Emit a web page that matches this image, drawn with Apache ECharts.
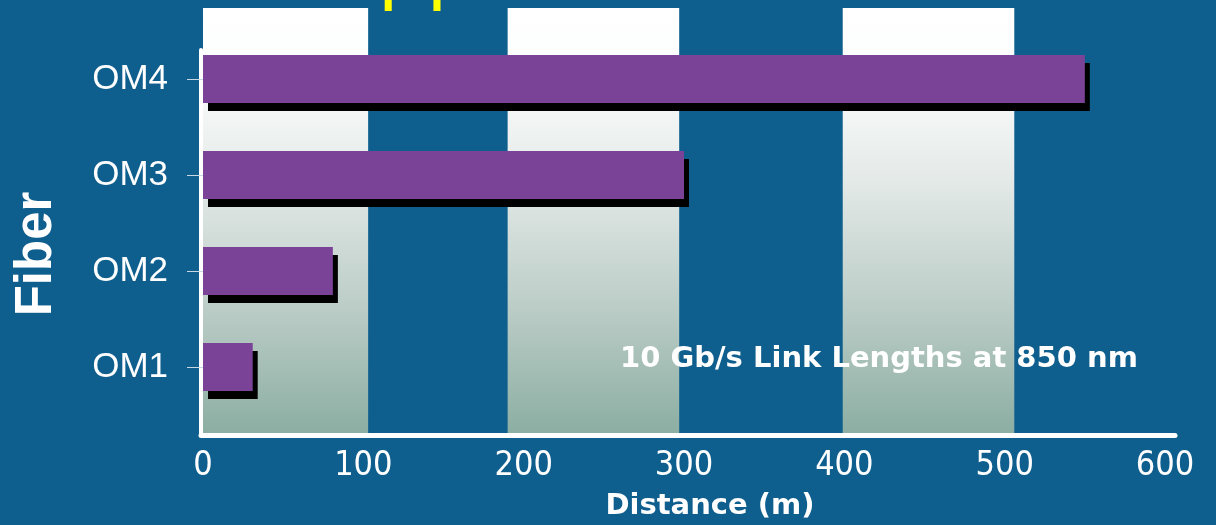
<!DOCTYPE html>
<html>
<head>
<meta charset="utf-8">
<style>
  html, body { margin: 0; padding: 0; background: #0e5e8e; }
  #chart { width: 1216px; height: 525px; }
</style>
<script src="https://cdn.jsdelivr.net/npm/echarts@6/dist/echarts.min.js"></script>
</head>
<body>
<div id="chart"></div>
<script>
// Fiber grades and their 10 Gb/s reach at 850 nm (metres)
const categories = ['OM1', 'OM2', 'OM3', 'OM4'];
const distances = [31, 81, 300, 550];

// Distance axis
const distanceMin = 0;
const distanceMax = 600;
const distanceStep = 100;

// Light background stripes, in metres along the distance axis
const bands = [[0, 103], [190, 297], [399, 506]];

const chart = echarts.init(document.getElementById('chart'), null, { renderer: 'canvas' });

const bandFill = new echarts.graphic.LinearGradient(0, 0, 0, 1, [
  { offset: 0, color: '#ffffff' },
  { offset: 0.15, color: '#fcfdfd' },
  { offset: 0.4, color: '#e4eae8' },
  { offset: 0.7, color: '#bccdc7' },
  { offset: 1, color: '#8caea3' }
]);

const hidden = { show: false };

chart.setOption({
  backgroundColor: '#0e5e8e',
  animation: false,
  grid: [
    // stripes
    { left: 203, width: 962, top: 8, height: 425 },
    // bars
    { left: 203, width: 962, top: 31, height: 384 },
    // axis frame
    { left: 201, right: 41, top: 50, bottom: 90 }
  ],
  xAxis: [
    { gridIndex: 0, type: 'value', min: distanceMin, max: distanceMax,
      axisLine: hidden, axisTick: hidden, axisLabel: hidden, splitLine: hidden },
    { gridIndex: 1, type: 'value', min: distanceMin, max: distanceMax, interval: distanceStep,
      offset: 20,
      axisLine: hidden, axisTick: hidden, splitLine: hidden,
      axisLabel: {
        color: '#ffffff', fontFamily: '"Liberation Sans Narrow", "DejaVu Sans Condensed", sans-serif',
        fontSize: 34, margin: 14
      } },
    { gridIndex: 2, type: 'value', min: 0, max: 1,
      axisLine: { show: true, onZero: false, lineStyle: { color: '#ffffff', width: 5 } },
      axisTick: hidden, axisLabel: hidden, splitLine: hidden }
  ],
  yAxis: [
    { gridIndex: 0, type: 'category', data: [''],
      axisLine: hidden, axisTick: hidden, axisLabel: hidden, splitLine: hidden },
    { gridIndex: 1, type: 'category', data: categories,
      axisLine: { show: false },
      axisTick: { show: true, alignWithLabel: true, length: 16, lineStyle: { color: '#c9d9e4', width: 1 } },
      axisLabel: {
        color: '#ffffff', fontFamily: '"Liberation Sans", Arial, sans-serif',
        fontSize: 35, margin: 35
      },
      splitLine: hidden },
    { gridIndex: 2, type: 'value', min: 0, max: 1,
      axisLine: { show: true, onZero: false, lineStyle: { color: '#ffffff', width: 4 } },
      axisTick: hidden, axisLabel: hidden, splitLine: hidden }
  ],
  series: [
    {
      type: 'line', xAxisIndex: 0, yAxisIndex: 0, data: [], silent: true,
      markArea: {
        silent: true,
        itemStyle: { color: bandFill },
        data: bands.map(b => [{ xAxis: b[0] }, { xAxis: b[1] }])
      }
    },
    {
      type: 'bar', xAxisIndex: 1, yAxisIndex: 1,
      data: distances,
      barWidth: 48,
      itemStyle: {
        color: '#7b4397',
        shadowColor: '#000000',
        shadowBlur: 0,
        shadowOffsetX: 5,
        shadowOffsetY: 8
      },
      z: 5
    }
  ],
  graphic: [
    {
      type: 'text', x: 280, y: -25, z: 100, silent: true,
      style: {
        text: 'Support', fill: '#ffff00',
        font: '77px "DejaVu Sans", sans-serif',
        align: 'left', verticalAlign: 'middle'
      }
    },
    {
      type: 'text', x: 37, y: 254, rotation: Math.PI / 2, z: 100, silent: true,
      style: {
        text: 'Fiber', fill: '#ffffff',
        font: 'bold 51px "Liberation Sans", Arial, sans-serif',
        align: 'center', verticalAlign: 'middle'
      }
    },
    {
      type: 'text', x: 710, y: 506, z: 100, silent: true,
      style: {
        text: 'Distance (m)', fill: '#ffffff',
        font: 'bold 29px "DejaVu Sans", sans-serif',
        align: 'center', verticalAlign: 'middle'
      }
    },
    {
      type: 'text', x: 620, y: 359, z: 100, silent: true,
      style: {
        text: '10 Gb/s Link Lengths at 850 nm', fill: '#ffffff',
        font: 'bold 29px "DejaVu Sans", sans-serif',
        align: 'left', verticalAlign: 'middle'
      }
    }
  ]
});
</script>
</body>
</html>
